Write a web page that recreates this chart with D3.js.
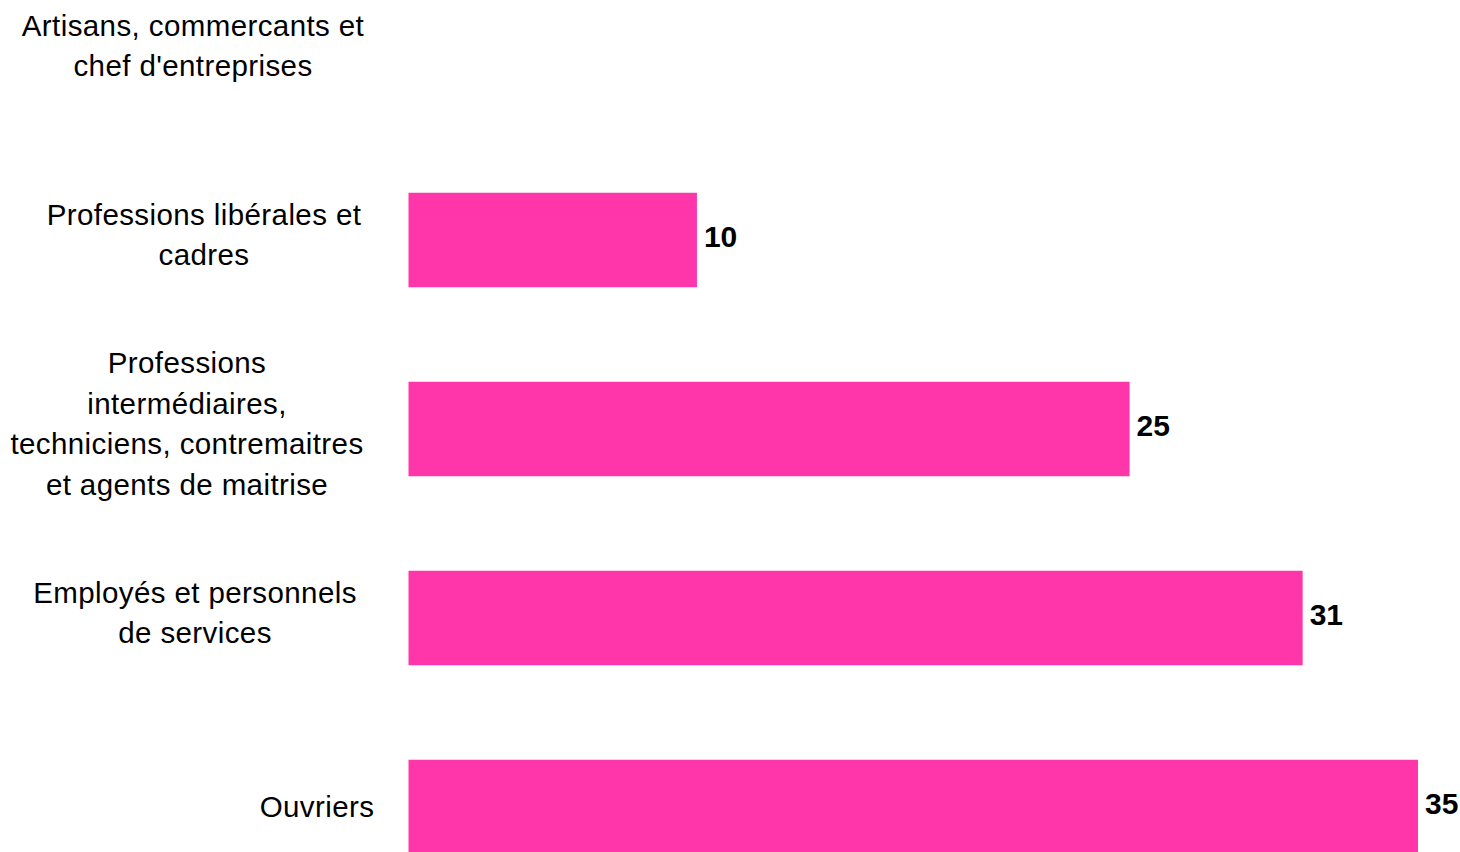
<!DOCTYPE html>
<html>
<head>
<meta charset="utf-8">
<script src="https://cdn.jsdelivr.net/npm/d3@7"></script>
<style>
  html, body { margin: 0; padding: 0; background: #fff; }
  svg { display: block; }
  text { font-family: "Liberation Sans", Arial, sans-serif; }
</style>
</head>
<body>
<svg id="chart" width="1460" height="852"></svg>
<script>
// Socio-professional categories and their values (first has no value)
const categories = [
  "Artisans, commercants et chef d'entreprises",
  "Professions libérales et cadres",
  "Professions intermédiaires, techniciens, contremaitres et agents de maitrise",
  "Employés et personnels de services",
  "Ouvriers"
];
const values = [null, 10, 25, 31, 35];

// How each category label wraps onto lines
const labelLines = [
  ["Artisans, commercants et", "chef d'entreprises"],
  ["Professions libérales et", "cadres"],
  ["Professions", "intermédiaires,", "techniciens, contremaitres", "et agents de maitrise"],
  ["Employés et personnels", "de services"],
  ["Ouvriers"]
];

// Horizontal centre of each wrapped label block
const labelCenters = [193, 204, 187, 195, 317];

const svg = d3.select("#chart");
const barColor = "#ff36a9";

const x = d3.scaleLinear().domain([0, 35]).range([408.5, 1418]);
const y = d3.scaleBand()
  .domain(categories)
  .range([-43.5, 901.5])
  .paddingInner(0.5)
  .paddingOuter(0.25);

const data = categories.map((c, i) => ({ cat: c, value: values[i], lines: labelLines[i], cx: labelCenters[i] }));

// Bars
svg.append("g").selectAll("rect")
  .data(data.filter(d => d.value != null))
  .join("rect")
  .attr("x", x(0))
  .attr("y", d => y(d.cat))
  .attr("width", d => x(d.value) - x(0))
  .attr("height", y.bandwidth())
  .attr("fill", barColor);

// Value labels
svg.append("g").selectAll("text")
  .data(data.filter(d => d.value != null))
  .join("text")
  .attr("x", d => x(d.value) + 7)
  .attr("y", d => y(d.cat) + y.bandwidth() / 2 + 7)
  .attr("font-size", 30)
  .attr("font-weight", "bold")
  .attr("fill", "#000")
  .text(d => d.value);

// Category labels
const lineHeight = 40.5;
const catG = svg.append("g");
data.forEach(d => {
  const n = d.lines.length;
  const mid = y(d.cat) + y.bandwidth() / 2 - (n > 1 ? 5 : 0);
  const t = catG.append("text")
    .attr("text-anchor", "middle")
    .attr("font-size", 29.5)
    .attr("letter-spacing", 0.4)
    .attr("fill", "#000");
  d.lines.forEach((line, j) => {
    t.append("tspan")
      .attr("x", d.cx)
      .attr("y", mid + (j - (n - 1) / 2) * lineHeight + 10)
      .text(line);
  });
});
</script>
</body>
</html>
